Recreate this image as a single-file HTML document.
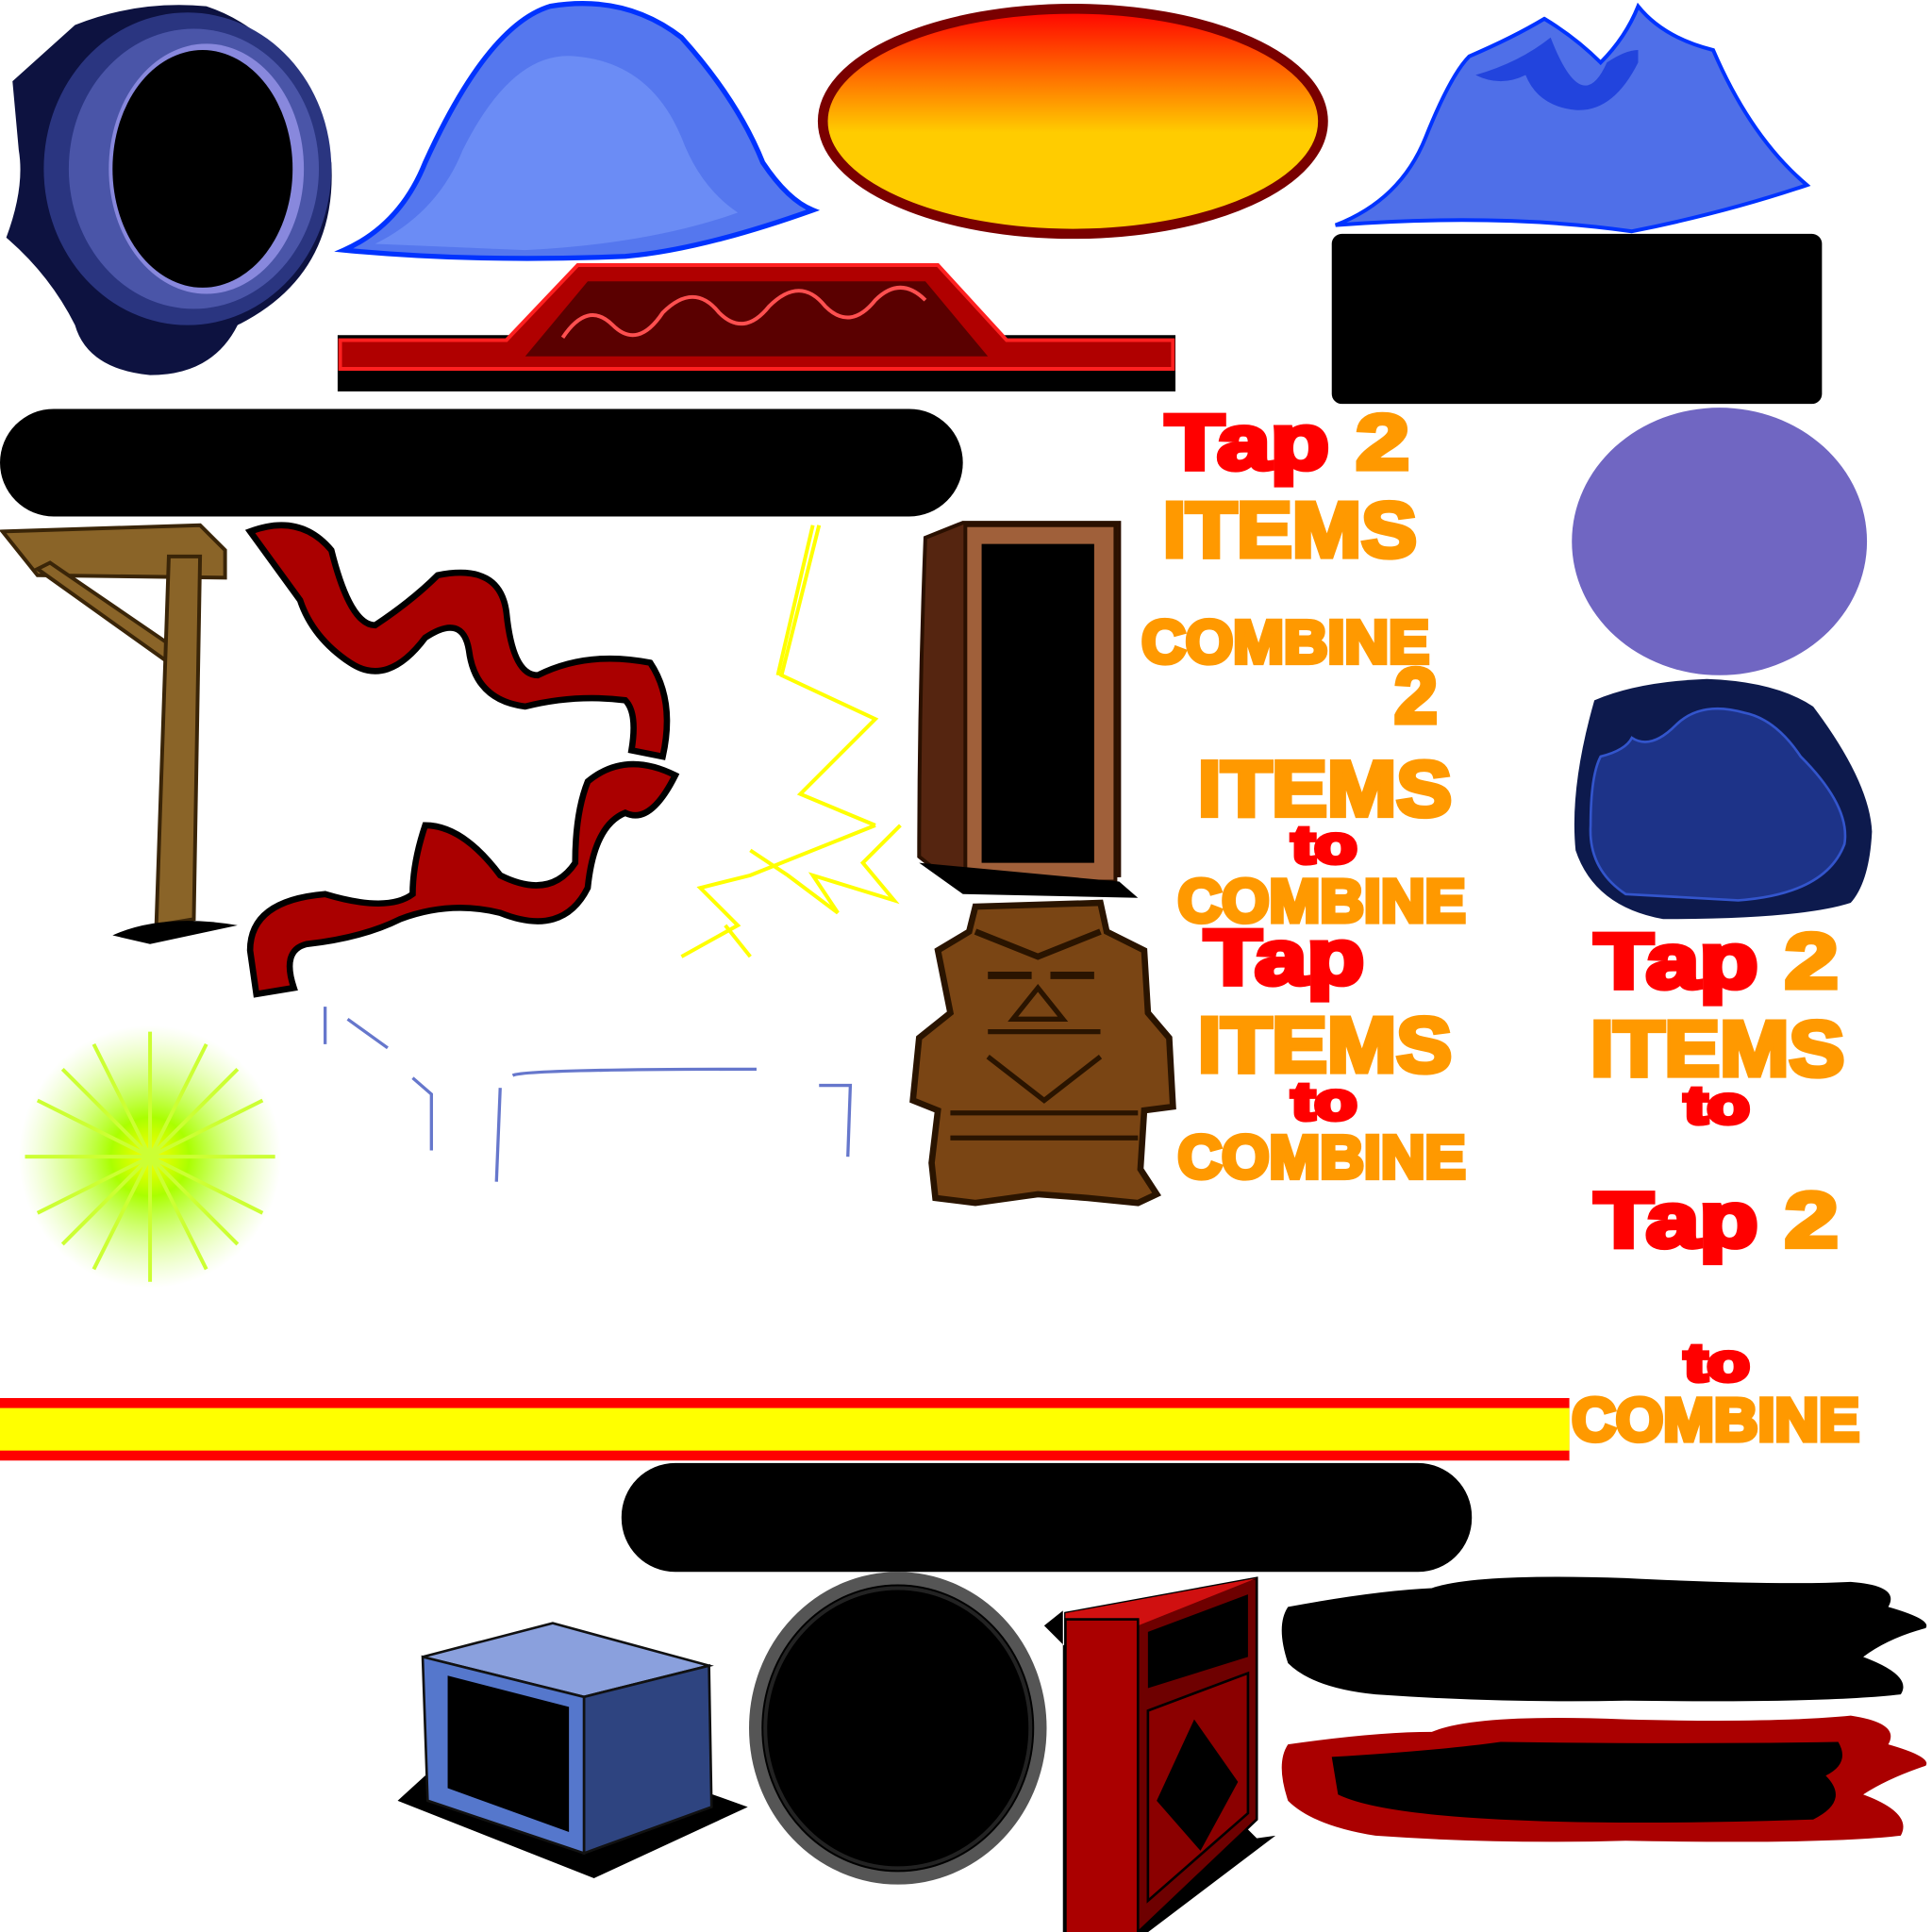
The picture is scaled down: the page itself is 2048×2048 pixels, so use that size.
<!DOCTYPE html>
<html><head><meta charset="utf-8"><style>html,body{margin:0;padding:0;background:#fff}svg{display:block}
text{font-family:"Liberation Sans",Arial,sans-serif;font-weight:bold;stroke-width:4;paint-order:stroke}
.r{fill:#ff0000;stroke:#ff0000}.o{fill:#ff9900;stroke:#ff9900}</style></head><body>
<svg width="2048" height="2048" viewBox="0 0 1545 1545" xmlns="http://www.w3.org/2000/svg">
<defs>
<linearGradient id="og" x1="0" y1="0" x2="0" y2="1"><stop offset="0" stop-color="#ff0000"/><stop offset="0.55" stop-color="#ffcc00"/><stop offset="1" stop-color="#ffcc00"/></linearGradient>
<radialGradient id="sg"><stop offset="0" stop-color="#ffff00"/><stop offset="0.3" stop-color="#aaff00"/><stop offset="1" stop-color="#ccff66" stop-opacity="0"/></radialGradient>
</defs>
<path d="M10,65 L60,20 Q110,0 165,5 Q240,30 265,130 Q270,220 190,260 Q170,300 120,300 Q70,295 60,260 Q40,220 5,190 Q20,150 15,120 Z" fill="#0d1240"/>
<ellipse cx="150" cy="135" rx="115" ry="125" fill="#2a3580"/>
<ellipse cx="155" cy="135" rx="100" ry="112" fill="#4a55a8"/>
<ellipse cx="165" cy="135" rx="78" ry="100" fill="#8888dd"/>
<ellipse cx="162" cy="135" rx="72" ry="95" fill="#000"/>
<path d="M275,200 Q320,180 340,130 Q390,20 440,5 Q500,-5 545,30 Q590,80 610,130 Q630,160 650,168 Q560,200 500,205 Q380,210 275,200 Z" fill="#5577ee" stroke="#0033ff" stroke-width="4"/>
<path d="M300,195 Q350,170 370,120 Q410,40 460,45 Q520,50 545,110 Q560,150 590,170 Q520,195 420,200 Z" fill="#6b8cf5"/>
<ellipse cx="858" cy="97" rx="200" ry="90" fill="url(#og)" stroke="#7a0000" stroke-width="8"/>
<path d="M1068,180 Q1120,160 1140,110 Q1160,60 1175,45 Q1210,30 1235,15 Q1260,30 1280,50 Q1300,30 1310,5 Q1330,30 1370,40 Q1400,110 1445,148 Q1380,170 1305,185 Q1200,170 1068,180 Z" fill="#4f6fe8" stroke="#0033ff" stroke-width="3"/>
<path d="M1180,60 Q1215,50 1240,30 Q1265,95 1285,50 Q1300,40 1310,40 L1310,50 Q1290,90 1260,88 Q1230,85 1220,60 Q1200,70 1180,60Z" fill="#2244dd"/>
<rect x="1065" y="187" width="392" height="136" rx="8" fill="#000"/>
<rect x="270" y="268" width="670" height="45" fill="#000"/>
<path d="M272,272 L405,272 L462,212 L750,212 L805,272 L938,272 L938,295 L272,295Z" fill="#b00000" stroke="#ff2020" stroke-width="3"/>
<path d="M420,285 L470,225 L740,225 L790,285Z" fill="#5a0000"/>
<path d="M450,270 q20,-30 40,-10 q20,20 40,-10 q25,-25 45,0 q20,20 40,-5 q25,-25 45,0 q20,20 40,-5 q20,-20 40,0" fill="none" stroke="#ff5050" stroke-width="3"/>
<rect x="0" y="327" width="770" height="86" rx="43" fill="#000"/>
<path d="M2,425 L160,420 L180,440 L180,462 L30,460 Z" fill="#8a6428" stroke="#3a2508" stroke-width="3"/>
<path d="M40,450 L135,515 L135,530 L30,455Z" fill="#8a6428" stroke="#3a2508" stroke-width="3"/>
<path d="M135,445 L160,445 L155,735 L125,740 Z" fill="#8a6428" stroke="#3a2508" stroke-width="3"/>
<path d="M90,748 Q130,730 190,740 L120,755Z" fill="#000"/>
<path d="M200,425 Q240,410 265,440 Q280,500 300,500 Q330,480 350,460 Q400,450 405,490 Q410,540 430,540 Q470,520 520,530 Q540,560 530,605 L505,600 Q510,570 500,560 Q460,555 420,565 Q380,560 375,520 Q370,490 340,510 Q310,550 280,530 Q250,510 240,480 Z" fill="#aa0000" stroke="#000" stroke-width="5"/>
<path d="M540,620 Q500,600 470,625 Q460,650 460,690 Q440,720 400,700 Q370,660 340,660 Q330,690 330,715 Q310,730 260,715 Q200,720 200,760 L205,795 L235,790 Q225,760 245,755 Q290,750 320,735 Q360,720 400,730 Q450,750 470,710 Q475,660 500,650 Q520,660 540,620 Z" fill="#aa0000" stroke="#000" stroke-width="5"/>
<g stroke="#ffff00" stroke-width="3" fill="none">
<path d="M655,420 L625,540 L700,575 L640,635 L700,660"/>
<path d="M650,420 L622,540"/>
<path d="M700,660 L600,700 L560,710 L590,740 L545,765"/>
<path d="M600,680 L630,700 L670,730 L650,700 L715,720 L690,690 L720,660"/>
<path d="M580,740 L600,765"/>
</g>
<path d="M740,430 L770,418 L895,418 L895,700 L760,705 L735,685 Q735,560 740,430Z" fill="#552510" stroke="#2a1000" stroke-width="3"/>
<rect x="772" y="420" width="120" height="285" fill="#a0603a" stroke="#2a1000" stroke-width="3"/>
<rect x="785" y="435" width="90" height="255" fill="#000"/>
<path d="M735,690 L770,715 L910,718 L895,705Z" fill="#000"/>
<path d="M780,725 L880,722 L885,745 L915,760 L918,810 L935,830 L938,885 L915,888 L912,935 L925,955 L910,962 L870,958 L830,955 L780,962 L748,958 L745,930 L750,888 L730,880 L735,830 L760,810 L750,760 L775,745 Z" fill="#7a4514" stroke="#2a1400" stroke-width="5"/>
<path d="M780,745 L830,765 L880,745" fill="none" stroke="#2a1400" stroke-width="5"/>
<path d="M790,780 h35 M840,780 h35" stroke="#2a1400" stroke-width="6"/>
<path d="M810,815 L830,790 L850,815Z" fill="#7a4514" stroke="#2a1400" stroke-width="4"/>
<path d="M790,825 h90 M760,890 h150 M760,910 h150" stroke="#2a1400" stroke-width="4"/>
<path d="M790,845 L835,880 L880,845" fill="none" stroke="#2a1400" stroke-width="4"/>
<ellipse cx="1375" cy="433" rx="118" ry="107" fill="#7066c2"/>
<path d="M1275,560 Q1310,545 1365,543 Q1420,545 1450,565 Q1495,625 1497,665 Q1495,705 1480,722 Q1440,735 1330,735 Q1275,725 1260,680 Q1255,630 1275,560Z" fill="#0d1a4d"/>
<path d="M1280,605 Q1300,600 1305,590 Q1320,600 1340,580 Q1360,560 1395,570 Q1420,575 1440,605 Q1480,645 1475,675 Q1460,715 1390,720 L1300,715 Q1270,695 1272,660 Q1272,620 1280,605Z" fill="#1d3388" stroke="#3355cc" stroke-width="2"/>
<circle cx="120" cy="925" r="105" fill="url(#sg)"/>
<g stroke="#ccff33" stroke-width="3">
<path d="M20,925 h200 M120,825 v200 M50,855 l140,140 M50,995 l140,-140 M30,880 l180,90 M30,970 l180,-90 M75,835 l90,180 M75,1015 l90,-180"/>
</g>
<g stroke="#6677cc" stroke-width="2.5" fill="none">
<path d="M260,805 v30 M278,815 L310,838 M330,862 L345,875 L345,920 M400,870 L397,945 M410,860 Q420,855 605,855 M655,868 H680 L678,925"/>
</g>
<rect x="0" y="1118" width="1255" height="50" fill="#ff0000"/>
<rect x="0" y="1126" width="1255" height="34" fill="#ffff00"/>
<rect x="497" y="1170" width="680" height="87" rx="43" fill="#000"/>
<path d="M318,1440 L340,1420 L570,1435 L598,1445 L475,1502Z" fill="#000"/>
<path d="M338,1325 L442,1298 L567,1332 L467,1357Z" fill="#8aa0dd" stroke="#111" stroke-width="2"/>
<path d="M467,1357 L567,1332 L569,1445 L467,1482Z" fill="#2e4480" stroke="#111" stroke-width="2"/>
<path d="M338,1325 L467,1357 L467,1482 L342,1440Z" fill="#5577cc" stroke="#111" stroke-width="2"/>
<path d="M358,1340 L455,1365 L455,1465 L358,1430Z" fill="#000"/>
<ellipse cx="718" cy="1382" rx="114" ry="120" fill="#000" stroke="#555" stroke-width="10"/>
<ellipse cx="718" cy="1382" rx="106" ry="112" fill="none" stroke="#222" stroke-width="3"/>
<path d="M835,1300 L850,1288 L850,1560 L905,1555 L1020,1468 L1005,1470Z" fill="#000"/>
<path d="M852,1290 L1005,1262 L1005,1455 L905,1550 L852,1555Z" fill="#6e0000" stroke="#000" stroke-width="2"/>
<path d="M852,1290 L1005,1262 L910,1300 L852,1300Z" fill="#d01010"/>
<path d="M852,1295 L910,1295 L910,1552 L852,1555Z" fill="#aa0000" stroke="#000" stroke-width="2"/>
<path d="M918,1305 L998,1275 L998,1325 L918,1350Z" fill="#000"/>
<path d="M918,1368 L998,1338 L998,1450 L918,1520Z" fill="#8b0000" stroke="#000" stroke-width="2"/>
<path d="M925,1440 L955,1375 L990,1425 L960,1480Z" fill="#000"/>
<path d="M1030,1285 Q1100,1272 1145,1270 Q1180,1258 1300,1262 Q1420,1268 1480,1265 Q1520,1268 1510,1285 Q1545,1295 1540,1302 Q1510,1310 1490,1325 Q1530,1340 1520,1355 Q1460,1362 1300,1360 Q1200,1362 1100,1355 Q1050,1350 1030,1330 Q1020,1300 1030,1285Z" fill="#000"/>
<path d="M1030,1395 Q1100,1385 1145,1385 Q1180,1370 1300,1375 Q1420,1378 1480,1372 Q1520,1378 1510,1395 Q1545,1405 1540,1412 Q1510,1422 1490,1435 Q1530,1450 1520,1468 Q1460,1475 1300,1472 Q1200,1475 1100,1468 Q1050,1460 1030,1440 Q1020,1410 1030,1395Z" fill="#aa0000"/>
<path d="M1065,1405 Q1150,1400 1200,1393 Q1350,1395 1470,1393 Q1480,1410 1460,1420 Q1480,1440 1450,1455 Q1300,1460 1200,1455 Q1100,1450 1070,1435Z" fill="#000"/>
<text x="932" y="375" font-size="62" textLength="195" lengthAdjust="spacingAndGlyphs"><tspan class="r">Tap </tspan><tspan class="o">2</tspan></text>
<text class="o" x="930" y="445" font-size="62" textLength="203" lengthAdjust="spacingAndGlyphs">ITEMS</text>
<text class="o" x="913" y="530" font-size="48" textLength="230" lengthAdjust="spacingAndGlyphs">COMBINE</text>
<text class="o" x="1115" y="578" font-size="62">2</text>
<text class="o" x="958" y="652" font-size="62" textLength="203" lengthAdjust="spacingAndGlyphs">ITEMS</text>
<text class="r" x="1033" y="690" font-size="42" textLength="52" lengthAdjust="spacingAndGlyphs">to</text>
<text class="o" x="942" y="737" font-size="48" textLength="230" lengthAdjust="spacingAndGlyphs">COMBINE</text>
<text class="r" x="963" y="787" font-size="62" textLength="128" lengthAdjust="spacingAndGlyphs">Tap</text>
<text class="o" x="958" y="857" font-size="62" textLength="203" lengthAdjust="spacingAndGlyphs">ITEMS</text>
<text class="r" x="1033" y="895" font-size="42" textLength="52" lengthAdjust="spacingAndGlyphs">to</text>
<text class="o" x="942" y="942" font-size="48" textLength="230" lengthAdjust="spacingAndGlyphs">COMBINE</text>
<text x="1275" y="790" font-size="62" textLength="195" lengthAdjust="spacingAndGlyphs"><tspan class="r">Tap </tspan><tspan class="o">2</tspan></text>
<text class="o" x="1272" y="860" font-size="62" textLength="203" lengthAdjust="spacingAndGlyphs">ITEMS</text>
<text class="r" x="1347" y="898" font-size="42" textLength="52" lengthAdjust="spacingAndGlyphs">to</text>
<text x="1275" y="997" font-size="62" textLength="195" lengthAdjust="spacingAndGlyphs"><tspan class="r">Tap </tspan><tspan class="o">2</tspan></text>
<text class="r" x="1347" y="1104" font-size="42" textLength="52" lengthAdjust="spacingAndGlyphs">to</text>
<text class="o" x="1257" y="1152" font-size="48" textLength="230" lengthAdjust="spacingAndGlyphs">COMBINE</text>
</svg>
</body></html>
